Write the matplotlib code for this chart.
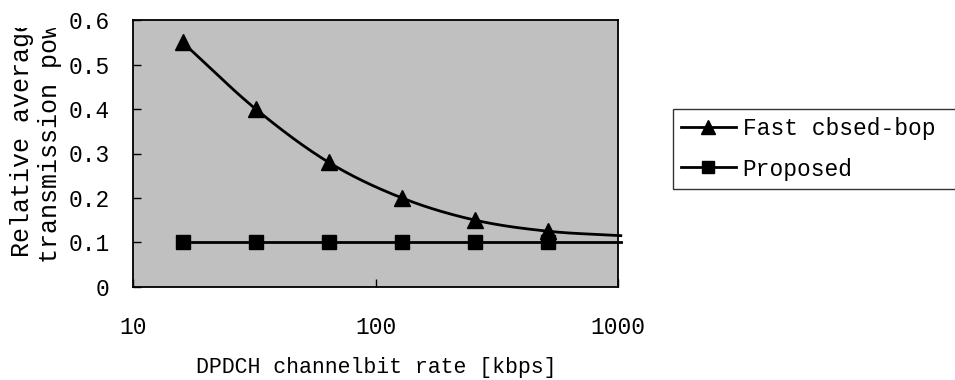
import numpy as np
import matplotlib
matplotlib.use("Agg")
import matplotlib.pyplot as plt
from matplotlib.lines import Line2D
from matplotlib.transforms import Bbox, TransformedBbox

# data
bitrate = [16, 32, 64, 128, 256, 512, 1024]
fast_closed_loop = [0.55, 0.40, 0.28, 0.20, 0.15, 0.125, 0.115]
proposed = [0.1, 0.1, 0.1, 0.1, 0.1, 0.1, 0.1]
n_marked = 6  # last point sits just outside the plot, no marker

yticks = [0, 0.1, 0.2, 0.3, 0.4, 0.5, 0.6]
xticks = [10, 100, 1000]

plt.rcParams['font.family'] = ['Liberation Mono', 'DejaVu Sans Mono']


def smooth(xs, ys, n=40):
    # catmull-rom through the points in log-x space (like excel smoothed lines)
    lx = np.log10(xs)
    ys = np.asarray(ys, float)
    px = np.concatenate([[2 * lx[0] - lx[1]], lx, [2 * lx[-1] - lx[-2]]])
    py = np.concatenate([[2 * ys[0] - ys[1]], ys, [2 * ys[-1] - ys[-2]]])
    out_x, out_y = [], []
    t = np.linspace(0, 1, n)
    for i in range(1, len(px) - 2):
        for p, out in ((px, out_x), (py, out_y)):
            p0, p1, p2, p3 = p[i - 1], p[i], p[i + 1], p[i + 2]
            seg = 0.5 * ((2 * p1) + (-p0 + p2) * t
                         + (2 * p0 - 5 * p1 + 4 * p2 - p3) * t ** 2
                         + (-p0 + 3 * p1 - 3 * p2 + p3) * t ** 3)
            out.extend(seg)
    return 10 ** np.array(out_x), np.array(out_y)


fig = plt.figure(figsize=(9.55, 3.8), dpi=100)
ax = fig.add_axes([133.3 / 955, 1 - 286.7 / 380, 485 / 955, 266.4 / 380])
ax.set_facecolor('#c0c0c0')

sx, sy = smooth(bitrate, fast_closed_loop)
ax.plot(sx, sy, color='black', lw=2, clip_on=False, zorder=3)
ax.plot(bitrate[:n_marked], fast_closed_loop[:n_marked], ls='none', marker='^',
        ms=11, color='black', clip_on=False, zorder=4)
ax.plot(bitrate, proposed, color='black', lw=2, clip_on=False, zorder=3)
ax.plot(bitrate[:n_marked], proposed[:n_marked], ls='none', marker='s',
        ms=10, color='black', clip_on=False, zorder=4)

ax.set_xscale('log')
ax.set_xlim(10, 1000)
ax.set_ylim(0, 0.6)
ax.set_xticks(xticks)
ax.set_xticklabels([str(v) for v in xticks])
ax.xaxis.set_minor_locator(plt.NullLocator())
ax.set_yticks(yticks)
ax.set_yticklabels(['0' if v == 0 else f'{v:.1f}' for v in yticks])
ax.tick_params(axis='both', direction='in', length=6, width=1, labelsize=16.5)
ax.tick_params(axis='y', pad=17)
ax.tick_params(axis='x', pad=21)
for s in ax.spines.values():
    s.set_linewidth(1.3)
    s.set_color('black')

ax.set_xlabel('DPDCH channelbit rate [kbps]', fontsize=15.5, labelpad=13)

# y title, cut off at the top like in the original
clip = TransformedBbox(Bbox.from_extents(0, 0, 1, 1 - 28 / 380), fig.transFigure)
for txt, x, y in [('Relative average', 22.5, 257), ('transmission power', 50, 263)]:
    t = fig.text(x / 955, 1 - y / 380, txt, rotation=90, rotation_mode='anchor',
                 ha='left', va='center', fontsize=18)
    t.set_clip_box(clip)
    t.set_clip_on(True)

handles = [
    Line2D([], [], color='black', lw=2, marker='^', ms=10),
    Line2D([], [], color='black', lw=2, marker='s', ms=9),
]
leg = fig.legend(handles, ['Fast cbsed-bop', 'Proposed'], loc='upper left',
                 bbox_to_anchor=(672.7 / 955, 1 - 109.3 / 380, (990 - 672.7) / 955, 0),
                 mode='expand', fontsize=16.5, frameon=True, fancybox=False,
                 borderaxespad=0, borderpad=0.35, handlelength=2.4,
                 handletextpad=0.3, labelspacing=0.75)
leg.get_frame().set_edgecolor('black')
leg.get_frame().set_linewidth(1.0)

fig.savefig('out.png', dpi=100)
